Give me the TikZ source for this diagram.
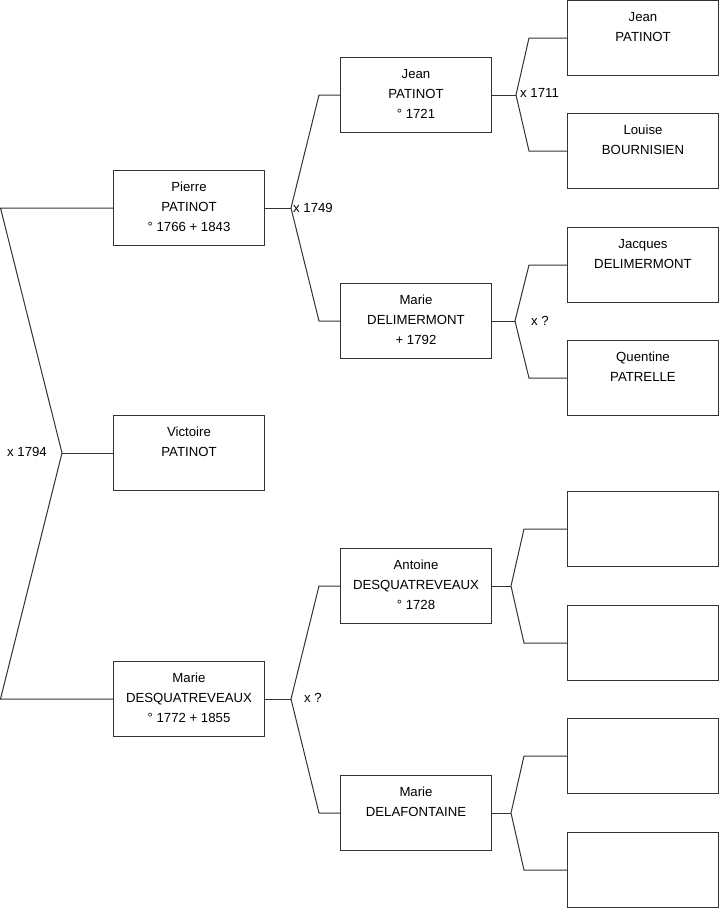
\documentclass[tikz,border=0pt]{standalone}
\usepackage{fontspec}
\setmainfont{Liberation Sans}
\begin{document}
\begin{tikzpicture}[x=1pt,y=-1pt,
  box/.style={draw=black!80, line width=1pt, minimum width=151pt, minimum height=75pt, inner sep=0pt, outer sep=0pt, anchor=north west},
  txt/.style={font=\fontsize{13.2}{20}\selectfont, align=center, inner sep=0pt, anchor=north},
  lnk/.style={draw=black!80, line width=1pt},
  lbl/.style={font=\fontsize{13.2}{20}\selectfont, inner sep=0pt, anchor=west}]
\useasboundingbox (0,0) rectangle (719,908);
% left column
\node[box] (pierre) at (113.5,170.5) {};
\node[box] (victoire) at (113.5,415.5) {};
\node[box] (marie) at (113.5,661.5) {};
% middle column
\node[box] (jean) at (340.5,57.5) {};
\node[box] (delim) at (340.5,283.5) {};
\node[box] (antoine) at (340.5,548.5) {};
\node[box] (delaf) at (340.5,775.5) {};
% right column
\node[box] (r1) at (567.5,0.5) {};
\node[box] (r2) at (567.5,113.5) {};
\node[box] (r3) at (567.5,227.5) {};
\node[box] (r4) at (567.5,340.5) {};
\node[box] (r5) at (567.5,491.5) {};
\node[box] (r6) at (567.5,605.5) {};
\node[box] (r7) at (567.5,718.5) {};
\node[box] (r8) at (567.5,832.5) {};
% texts
\node[txt] (pierreT) at ([yshift=-11.5pt]pierre.north) {Pierre\\PATINOT\\° 1766 + 1843};
\node[txt] (victoireT) at ([yshift=-11.5pt]victoire.north) {Victoire\\PATINOT};
\node[txt] (marieT) at ([yshift=-11.5pt]marie.north) {Marie\\DESQUATREVEAUX\\° 1772 + 1855};
\node[txt] (jeanT) at ([yshift=-11.5pt]jean.north) {Jean\\PATINOT\\° 1721};
\node[txt] (delimT) at ([yshift=-11.5pt]delim.north) {Marie\\DELIMERMONT\\+ 1792};
\node[txt] (antoineT) at ([yshift=-11.5pt]antoine.north) {Antoine\\DESQUATREVEAUX\\° 1728};
\node[txt] (delafT) at ([yshift=-11.5pt]delaf.north) {Marie\\DELAFONTAINE};
\node[txt] (r1T) at ([yshift=-11.5pt]r1.north) {Jean\\PATINOT};
\node[txt] (r2T) at ([yshift=-11.5pt]r2.north) {Louise\\BOURNISIEN};
\node[txt] (r3T) at ([yshift=-11.5pt]r3.north) {Jacques\\DELIMERMONT};
\node[txt] (r4T) at ([yshift=-11.5pt]r4.north) {Quentine\\PATRELLE};
% connectors
\coordinate (kL) at (62,453);
\draw[lnk] (pierre.west) -- ([xshift=-113pt]pierre.west) -- (kL) -- ([xshift=-113pt]marie.west) -- (marie.west);
\draw[lnk] (kL) -- (victoire.west);
\coordinate (kP) at (291,208);
\draw[lnk] (pierre.east) -- (kP);
\draw[lnk] (jean.west) -- ([xshift=-21.5pt]jean.west) -- (kP) -- ([xshift=-21.5pt]delim.west) -- (delim.west);
\coordinate (kM) at (291,699);
\draw[lnk] (marie.east) -- (kM);
\draw[lnk] (antoine.west) -- ([xshift=-21.5pt]antoine.west) -- (kM) -- ([xshift=-21.5pt]delaf.west) -- (delaf.west);
\coordinate (kJ) at (516,95);
\draw[lnk] (jean.east) -- (kJ);
\draw[lnk] (r1.west) -- ([xshift=-38.5pt]r1.west) -- (kJ) -- ([xshift=-38.5pt]r2.west) -- (r2.west);
\coordinate (kD) at (515,321);
\draw[lnk] (delim.east) -- (kD);
\draw[lnk] (r3.west) -- ([xshift=-38.5pt]r3.west) -- (kD) -- ([xshift=-38.5pt]r4.west) -- (r4.west);
\coordinate (kA) at (511,586);
\draw[lnk] (antoine.east) -- (kA);
\draw[lnk] (r5.west) -- ([xshift=-43.5pt]r5.west) -- (kA) -- ([xshift=-43.5pt]r6.west) -- (r6.west);
\coordinate (kF) at (511,813);
\draw[lnk] (delaf.east) -- (kF);
\draw[lnk] (r7.west) -- ([xshift=-43.5pt]r7.west) -- (kF) -- ([xshift=-43.5pt]r8.west) -- (r8.west);
% labels
\node[lbl] (l1794) at (7,452) {x 1794};
\node[lbl] (l1749) at (293,208) {x 1749};
\node[lbl] (l1711) at (520,93) {x 1711};
\node[lbl] (lq1) at (531,321) {x ?};
\node[lbl] (lq2) at (304,698) {x ?};
\end{tikzpicture}
\end{document}
